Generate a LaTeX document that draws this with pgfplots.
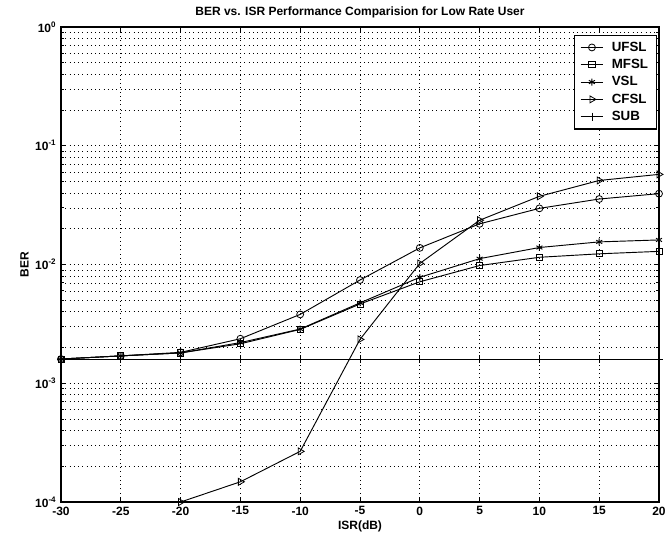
\documentclass[border=0pt]{standalone}
\usepackage{pgfplots}
\pgfplotsset{compat=1.18}
\usepackage{fontspec}
\setmainfont{Liberation Sans}

% BER against ISR for the low-rate user, one table per scheme
\pgfplotstableread{
x      ber
-30    1.60e-3
-25    1.70e-3
-20    1.82e-3
-15    2.37e-3
-10    3.80e-3
-5     7.40e-3
0      1.38e-2
5      2.20e-2
10     2.97e-2
15     3.56e-2
20     3.95e-2
}\ufsl
\pgfplotstableread{
x      ber
-30    1.60e-3
-25    1.70e-3
-20    1.80e-3
-15    2.15e-3
-10    2.84e-3
-5     4.65e-3
0      7.15e-3
5      9.80e-3
10     1.15e-2
15     1.23e-2
20     1.29e-2
}\mfsl
\pgfplotstableread{
x      ber
-30    1.60e-3
-25    1.70e-3
-20    1.80e-3
-15    2.20e-3
-10    2.86e-3
-5     4.75e-3
0      7.80e-3
5      1.12e-2
10     1.39e-2
15     1.55e-2
20     1.61e-2
}\vsl
\pgfplotstableread{
x      ber
-20    1.00e-4
-15    1.48e-4
-10    2.67e-4
-5     2.34e-3
0      1.02e-2
5      2.36e-2
10     3.75e-2
15     5.10e-2
20     5.74e-2
}\cfsl
\pgfplotstableread{
x      ber
-30    1.60e-3
-25    1.60e-3
-20    1.60e-3
-15    1.60e-3
-10    1.60e-3
-5     1.60e-3
0      1.60e-3
5      1.60e-3
10     1.60e-3
15     1.60e-3
20     1.60e-3
}\sub

\begin{document}
\begin{tikzpicture}
\path[use as bounding box] (-45.75pt,-29.25pt) rectangle (454.5pt,376.5pt);
\begin{axis}[
  at={(0,0)}, anchor=south west,
  scale only axis, width=448.5pt, height=356.25pt,
  font=\bfseries\small,
  ymode=log,
  xmin=-30, xmax=20, ymin=1e-4, ymax=1,
  xtick={-30,-25,...,20},
  ytick={1e-4,1e-3,1e-2,1e-1,1},
  yticklabels={10\textsuperscript{-4},10\textsuperscript{-3},10\textsuperscript{-2},10\textsuperscript{-1},10\textsuperscript{0}},
  minor ytick={2e-4,3e-4,4e-4,5e-4,6e-4,7e-4,8e-4,9e-4,
               2e-3,3e-3,4e-3,5e-3,6e-3,7e-3,8e-3,9e-3,
               2e-2,3e-2,4e-2,5e-2,6e-2,7e-2,8e-2,9e-2,
               0.2,0.3,0.4,0.5,0.6,0.7,0.8,0.9},
  /pgf/number format/assume math mode=true,
  tick label style={font=\bfseries\small},
  tick align=inside, xtick pos=both, ytick pos=both,
  major tick length=4pt, minor tick length=2.2pt,
  tick style={black, line width=0.6pt},
  grid=both,
  major grid style={black, line width=0.5pt, dash pattern=on 0.6pt off 2.6pt},
  minor grid style={black, line width=0.5pt, dash pattern=on 0.6pt off 2.6pt},
  axis line style={black, line width=0.9pt},
  title={BER vs. ISR Performance Comparision for Low Rate User},
  title style={font=\bfseries\small, yshift=-3pt},
  xlabel={ISR(dB)}, ylabel={BER},
  xlabel style={font=\bfseries\small, yshift=3pt},
  ylabel style={font=\bfseries\small, yshift=-2pt},
  legend style={at={(0.996,0.984)}, anchor=north east, draw=black,
    line width=0.8pt, font=\bfseries, fill=white,
    inner xsep=4pt, inner ysep=3pt, row sep=0.5pt, column sep=4pt},
  legend cell align=left,
  cycle list={{black, line width=0.7pt}},
]
\addplot[black, line width=0.7pt, mark=o, mark size=2.6pt, mark options={solid, fill=none, line width=0.6pt}] table[x=x, y=ber] {\ufsl};
\addlegendentry{UFSL}
\addplot[black, line width=0.7pt, mark=square, mark size=2.3pt, mark options={solid, fill=none, line width=0.6pt}] table[x=x, y=ber] {\mfsl};
\addlegendentry{MFSL}
\addplot[black, line width=0.7pt, mark=asterisk, mark size=2.6pt, mark options={solid, line width=0.7pt}] table[x=x, y=ber] {\vsl};
\addlegendentry{VSL}
\addplot[black, line width=0.7pt, mark=triangle, mark size=3pt, mark options={solid, fill=none, rotate=-90, line width=0.6pt}] table[x=x, y=ber] {\cfsl};
\addlegendentry{CFSL}
\addplot[black, line width=0.7pt, mark=+, mark size=3pt, mark options={solid, line width=0.6pt}] table[x=x, y=ber] {\sub};
\addlegendentry{SUB}
\end{axis}
\end{tikzpicture}
\end{document}
